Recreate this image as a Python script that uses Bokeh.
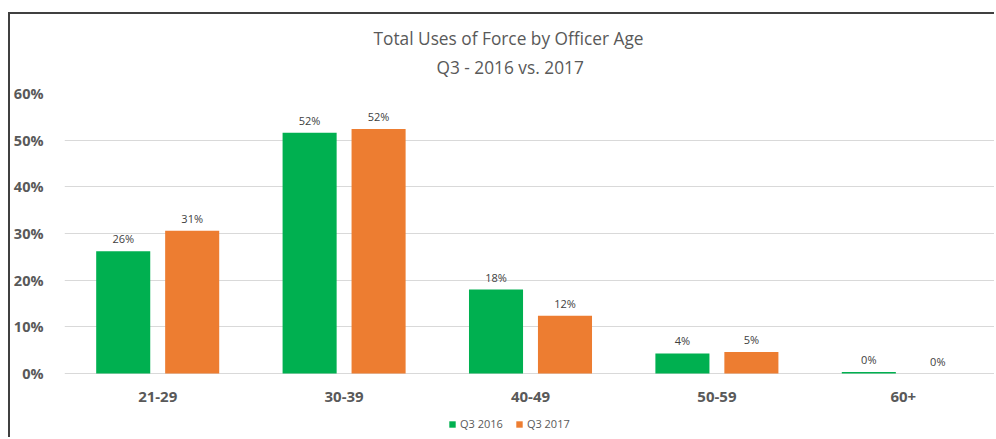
from bokeh.plotting import figure
from bokeh.models import (ColumnDataSource, FactorRange, Range1d, FixedTicker,
                          NumeralTickFormatter, Legend, LegendItem, Title)
from bokeh.transform import dodge
from bokeh.embed import file_html
from bokeh.resources import INLINE
from bokeh.core.properties import value

categories = ["21-29", "30-39", "40-49", "50-59", "60+"]
q3_2016 = [0.262, 0.516, 0.180, 0.043, 0.003]
q3_2017 = [0.306, 0.524, 0.124, 0.046, 0.0]
series_names = ["Q3 2016", "Q3 2017"]
y_ticks = [0, 0.1, 0.2, 0.3, 0.4, 0.5, 0.6]
title_lines = ["Total Uses of Force by Officer Age", "Q3 - 2016 vs. 2017"]

GREEN = "#00B050"
ORANGE = "#ED7D31"
FONT = "Open Sans"
GRAY = "#595959"

# layout (pixels): plot area spans 280px for 0..60%, with 66px below the zero line
PX_PER_UNIT = 280 / 0.6
Y_MIN = -66 / PX_PER_UNIT

src = ColumnDataSource(dict(
    cat=categories,
    a=q3_2016,
    b=q3_2017,
    a_lbl=[f"{round(v * 100):.0f}%" for v in q3_2016],
    b_lbl=[f"{round(v * 100):.0f}%" for v in q3_2017],
))

p = figure(width=986, height=425, x_range=FactorRange(*categories),
           y_range=Range1d(Y_MIN, 0.6), output_backend="svg",
           toolbar_location=None, x_axis_location=None,
           min_border_left=54, min_border_right=0, min_border_top=79,
           min_border_bottom=0, margin=(12, 0, 0, 8))
p.styles = {"border-top": "2px solid #404040", "border-left": "2px solid #404040"}
p.outline_line_color = None
p.background_fill_color = "white"
p.border_fill_color = "white"

ra = p.vbar(x=dodge("cat", -0.185, range=p.x_range), top="a", width=0.29,
            source=src, fill_color=GREEN, line_color=None)
rb = p.vbar(x=dodge("cat", 0.185, range=p.x_range), top="b", width=0.29,
            source=src, fill_color=ORANGE, line_color=None)

for off, col, lbl in [(-0.185, "a", "a_lbl"), (0.185, "b", "b_lbl")]:
    p.text(x=dodge("cat", off, range=p.x_range), y=col, text=lbl, source=src,
           text_align="center", text_baseline="bottom", y_offset=-5,
           text_font=value(FONT), text_font_size="11px", text_color="#404040")

# category labels under the zero line
p.text(x="cat", y=0, text="cat", source=src, text_align="center",
       text_baseline="middle", y_offset=23, text_font=value(FONT),
       text_font_size="15px", text_font_style="bold", text_color=GRAY)

p.yaxis.ticker = FixedTicker(ticks=y_ticks)
p.yaxis.formatter = NumeralTickFormatter(format="0%")
p.yaxis.axis_line_color = None
p.yaxis.major_tick_line_color = None
p.yaxis.minor_tick_line_color = None
p.yaxis.major_label_text_font = FONT
p.yaxis.major_label_text_font_style = "bold"
p.yaxis.major_label_text_font_size = "14.5px"
p.yaxis.major_label_text_color = GRAY
p.yaxis.major_label_standoff = 15

p.xgrid.grid_line_color = None
p.ygrid.grid_line_color = "#d9d9d9"
p.ygrid.grid_line_width = 1

legend = Legend(items=[LegendItem(label=series_names[0], renderers=[ra]),
                       LegendItem(label=series_names[1], renderers=[rb])],
                orientation="horizontal", location=(384, 8),
                glyph_width=8, glyph_height=8, label_standoff=4, spacing=12,
                label_text_font=FONT, label_text_font_size="11px",
                label_text_color=GRAY, label_height=12,
                border_line_color=None, background_fill_alpha=0,
                padding=0, margin=0)
p.add_layout(legend, "center")

t2 = Title(text=title_lines[1], align="left", offset=372,
           text_font=FONT, text_font_size="17.3px", text_font_style="normal",
           text_color=GRAY, standoff=30)
t1 = Title(text=title_lines[0], align="left", offset=309,
           text_font=FONT, text_font_size="17.3px", text_font_style="normal",
           text_color=GRAY, standoff=-22)
p.add_layout(t2, "above")
p.add_layout(t1, "above")

open("out.html", "w").write(file_html(p, INLINE))
